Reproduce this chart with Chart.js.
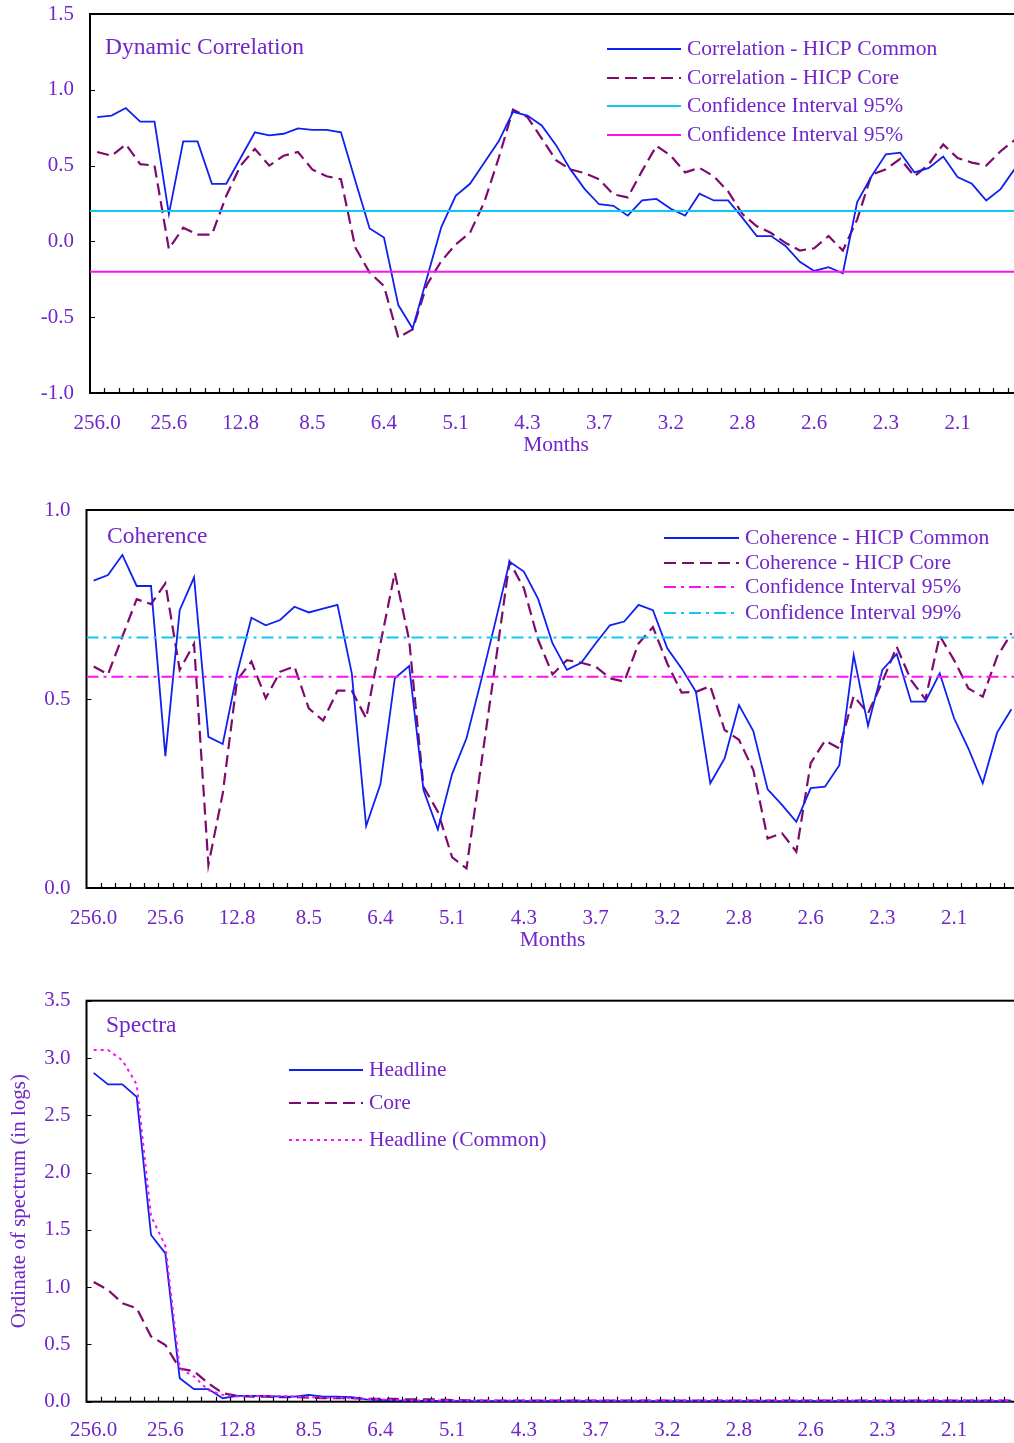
<!DOCTYPE html>
<html>
<head>
<meta charset="utf-8">
<script src="https://cdn.jsdelivr.net/npm/chart.js@4.4.1/dist/chart.umd.min.js"></script>
<style>
  html, body { margin: 0; padding: 0; background: #fff; overflow: hidden; width: 1014px; height: 1443px; }
  canvas { position: absolute; left: 0; }
</style>
</head>
<body>
<canvas id="corr" width="1040" height="470" style="top:0px"></canvas>
<canvas id="coh" width="1040" height="470" style="top:490px"></canvas>
<canvas id="spec" width="1040" height="463" style="top:980px"></canvas>
<script>
// Period (in months) shown under every fifth frequency point
const periodLabels = ['256.0', '25.6', '12.8', '8.5', '6.4', '5.1', '4.3', '3.7', '3.2', '2.8', '2.6', '2.3', '2.1'];
const pointCount = 65;

// Dynamic correlation
const corrCommon = [0.82, 0.83, 0.88, 0.79, 0.79, 0.18, 0.66, 0.66, 0.38, 0.38,
  0.55, 0.72, 0.70, 0.71, 0.745, 0.735, 0.735, 0.72, 0.40, 0.085,
  0.025, -0.42, -0.575, -0.24, 0.095, 0.30, 0.38, 0.52, 0.66, 0.855,
  0.83, 0.765, 0.635, 0.475, 0.345, 0.245, 0.235, 0.17, 0.27, 0.28,
  0.215, 0.17, 0.315, 0.27, 0.27, 0.155, 0.035, 0.035, -0.03, -0.135,
  -0.195, -0.17, -0.21, 0.26, 0.43, 0.575, 0.585, 0.455, 0.485, 0.56,
  0.425, 0.38, 0.27, 0.345, 0.48];
const corrCore = [0.59, 0.565, 0.64, 0.51, 0.50, -0.05, 0.09, 0.045, 0.045, 0.30,
  0.50, 0.61, 0.50, 0.565, 0.59, 0.475, 0.43, 0.41, -0.04, -0.205,
  -0.295, -0.635, -0.58, -0.285, -0.13, -0.02, 0.057, 0.26, 0.55, 0.87,
  0.82, 0.68, 0.535, 0.475, 0.45, 0.41, 0.31, 0.29, 0.465, 0.63,
  0.565, 0.455, 0.485, 0.43, 0.33, 0.18, 0.10, 0.055, -0.01, -0.06,
  -0.045, 0.035, -0.06, 0.145, 0.44, 0.475, 0.545, 0.43, 0.51, 0.64,
  0.55, 0.52, 0.50, 0.595, 0.67];
const corrBandUpper = 0.2;
const corrBandLower = -0.2;

// Coherence
const cohCommon = [0.813, 0.828, 0.881, 0.799, 0.799, 0.349, 0.735, 0.822, 0.40, 0.381,
  0.568, 0.715, 0.695, 0.709, 0.744, 0.729, 0.739, 0.749, 0.568, 0.164,
  0.275, 0.555, 0.587, 0.259, 0.155, 0.302, 0.396, 0.546, 0.702, 0.863,
  0.837, 0.764, 0.647, 0.577, 0.596, 0.647, 0.695, 0.705, 0.749, 0.735,
  0.634, 0.581, 0.519, 0.277, 0.343, 0.484, 0.415, 0.261, 0.22, 0.175,
  0.264, 0.268, 0.325, 0.616, 0.429, 0.577, 0.619, 0.493, 0.493, 0.568,
  0.449, 0.369, 0.277, 0.411, 0.473];
const cohCore = [0.586, 0.565, 0.665, 0.764, 0.751, 0.806, 0.577, 0.646, 0.061, 0.25,
  0.55, 0.599, 0.502, 0.572, 0.586, 0.475, 0.443, 0.522, 0.522, 0.449,
  0.647, 0.834, 0.656, 0.268, 0.202, 0.081, 0.052, 0.321, 0.59, 0.863,
  0.793, 0.656, 0.565, 0.603, 0.596, 0.586, 0.555, 0.546, 0.647, 0.69,
  0.594, 0.517, 0.519, 0.534, 0.418, 0.392, 0.312, 0.131, 0.145, 0.096,
  0.33, 0.39, 0.369, 0.508, 0.462, 0.546, 0.638, 0.55, 0.499, 0.667,
  0.603, 0.528, 0.506, 0.612, 0.674];
const cohCI95 = 0.559;
const cohCI99 = 0.663;

// Spectra (in logs)
const specHeadline = [2.87, 2.77, 2.77, 2.66, 1.455, 1.295, 0.205, 0.11, 0.11, 0.03,
  0.05, 0.05, 0.05, 0.045, 0.045, 0.06, 0.045, 0.045, 0.04, 0.02,
  0.015, 0.01, 0.01, 0.008, 0.006, 0.005, 0.004, 0.004, 0.004, 0.004,
  0.004, 0.004, 0.004, 0.004, 0.004, 0.004, 0.004, 0.005, 0.004, 0.004,
  0.004, 0.004, 0.004, 0.004, 0.004, 0.004, 0.004, 0.004, 0.004, 0.004,
  0.004, 0.004, 0.004, 0.004, 0.004, 0.004, 0.004, 0.004, 0.004, 0.004,
  0.004, 0.004, 0.004, 0.004, 0.004];
const specCore = [1.045, 0.975, 0.86, 0.815, 0.57, 0.495, 0.29, 0.265, 0.16, 0.075,
  0.05, 0.045, 0.045, 0.04, 0.04, 0.035, 0.03, 0.03, 0.03, 0.025,
  0.025, 0.025, 0.02, 0.02, 0.02, 0.015, 0.012, 0.01, 0.01, 0.01,
  0.01, 0.01, 0.01, 0.01, 0.01, 0.01, 0.01, 0.01, 0.01, 0.01,
  0.01, 0.01, 0.01, 0.01, 0.01, 0.01, 0.01, 0.01, 0.01, 0.01,
  0.01, 0.01, 0.01, 0.01, 0.01, 0.01, 0.01, 0.01, 0.01, 0.01,
  0.01, 0.01, 0.01, 0.01, 0.01];
const specHeadlineCommon = [3.07, 3.07, 2.98, 2.77, 1.62, 1.36, 0.29, 0.22, 0.10, 0.06,
  0.045, 0.05, 0.05, 0.05, 0.045, 0.04, 0.035, 0.035, 0.03, 0.025,
  0.02, 0.015, 0.012, 0.01, 0.01, 0.01, 0.01, 0.01, 0.01, 0.01,
  0.01, 0.01, 0.01, 0.01, 0.01, 0.01, 0.01, 0.01, 0.01, 0.01,
  0.01, 0.01, 0.01, 0.01, 0.01, 0.01, 0.01, 0.01, 0.01, 0.01,
  0.01, 0.01, 0.01, 0.01, 0.01, 0.01, 0.01, 0.01, 0.01, 0.01,
  0.01, 0.01, 0.01, 0.01, 0.01];

// ---- styling ----
const TEXT = '#7026C8';
const BLUE = '#1020F0';
const PLUM = '#7E0A6E';
const CYAN = '#10C8F5';
const MAGENTA = '#FF10F0';
const SERIF = "'Liberation Serif', 'Times New Roman', serif";
const CAT_W = 14.34;

const categories = Array.from({ length: pointCount }, (_, i) => (i % 5 === 0 && periodLabels[i / 5]) ? periodLabels[i / 5] : '');

// a horizontal reference line spanning the whole frequency range
function levelLine(v) {
  return [{ x: -0.5, y: v }, { x: pointCount - 0.5, y: v }];
}

// frame, inward tick marks, panel title and legend
const panelDecor = {
  id: 'panelDecor',
  beforeDatasetsDraw(chart) {
    const { ctx, chartArea: a, scales } = chart;
    const x = scales.x, y = scales.y;
    ctx.save();
    ctx.strokeStyle = '#000';
    ctx.lineWidth = 2;
    ctx.strokeRect(a.left, a.top, a.right - a.left, a.bottom - a.top);
    ctx.lineWidth = 1.2;
    ctx.beginPath();
    const step = x.getPixelForValue(1) - x.getPixelForValue(0);
    for (let i = 0; i < chart.data.labels.length; i++) {
      const px = Math.round(x.getPixelForValue(i) + step / 2) + 0.5;
      ctx.moveTo(px, a.bottom);
      ctx.lineTo(px, a.bottom - 5);
    }
    y.ticks.forEach(t => {
      const py = Math.round(y.getPixelForValue(t.value)) + 0.5;
      ctx.moveTo(a.left, py);
      ctx.lineTo(a.left + 5, py);
    });
    ctx.stroke();
    ctx.restore();
  },
  afterDatasetsDraw(chart, args, opts) {
    const { ctx } = chart;
    ctx.save();
    ctx.fillStyle = TEXT;
    ctx.textBaseline = 'middle';
    ctx.textAlign = 'left';
    ctx.font = `23.5px ${SERIF}`;
    ctx.fillText(opts.title, opts.titleX, opts.titleY);
    ctx.font = `21.5px ${SERIF}`;
    chart.data.datasets.forEach((ds, i) => {
      const ry = opts.rows[i];
      ctx.save();
      ctx.strokeStyle = ds.borderColor;
      ctx.lineWidth = ds.borderWidth;
      ctx.setLineDash(ds.borderDash || []);
      ctx.beginPath();
      ctx.moveTo(opts.lineX1, ry);
      ctx.lineTo(opts.lineX2, ry);
      ctx.stroke();
      ctx.restore();
      ctx.fillText(ds.label, opts.textX, ry);
    });
    ctx.restore();
  }
};

function buildChart(id, cfg) {
  const yTicks = {
    color: TEXT, font: { family: SERIF, size: 21 }, padding: 16,
    stepSize: 0.5, callback: v => Number(v).toFixed(1)
  };
  return new Chart(document.getElementById(id), {
    type: 'line',
    data: { labels: categories, datasets: cfg.datasets },
    options: {
      responsive: false,
      devicePixelRatio: 1,
      animation: false,
      events: [],
      layout: { padding: { top: cfg.padTop, right: cfg.padRight, left: 0, bottom: 0 } },
      elements: { point: { radius: 0 }, line: { tension: 0 } },
      plugins: {
        legend: { display: false },
        tooltip: { enabled: false },
        panelDecor: cfg.decor
      },
      scales: {
        x: {
          type: 'category',
          offset: true,
          grid: { display: false, drawTicks: false },
          border: { display: false },
          ticks: {
            autoSkip: false, maxRotation: 0, minRotation: 0,
            color: TEXT, font: { family: SERIF, size: 21 }, padding: cfg.xTickPad,
            callback: (v, i) => categories[i]
          },
          title: cfg.xTitle ? {
            display: true, text: cfg.xTitle, color: TEXT,
            font: { family: SERIF, size: 21.5 }, padding: { top: 0, bottom: cfg.xTitlePad }
          } : { display: false },
          afterFit: s => { s.height = cfg.xHeight; s.paddingLeft = 0; s.paddingRight = 0; }
        },
        xLevel: {
          type: 'linear', display: false, min: -0.5, max: pointCount - 0.5
        },
        y: {
          min: cfg.yMin, max: cfg.yMax,
          grid: { display: false, drawTicks: false },
          border: { display: false },
          ticks: yTicks,
          title: cfg.yTitle ? {
            display: true, text: cfg.yTitle, color: TEXT,
            font: { family: SERIF, size: 21 }, padding: { top: 7, bottom: 0 }
          } : { display: false },
          afterFit: s => { s.width = cfg.yWidth; s.paddingTop = 0; s.paddingBottom = 0; }
        }
      }
    },
    plugins: [panelDecor]
  });
}

// Panel 1: dynamic correlation
buildChart('corr', {
  padTop: 14, padRight: 1040 - (90 + pointCount * CAT_W),
  yWidth: 90, xHeight: 77, xTickPad: 18, xTitle: 'Months', xTitlePad: 12,
  yMin: -1, yMax: 1.5,
  datasets: [
    { label: 'Correlation - HICP Common', data: corrCommon, borderColor: BLUE, borderWidth: 1.8, order: 1 },
    { label: 'Correlation - HICP Core', data: corrCore, borderColor: PLUM, borderWidth: 2.2, borderDash: [12, 6], order: 2 },
    { label: 'Confidence Interval 95%', data: levelLine(corrBandUpper), xAxisID: 'xLevel', borderColor: CYAN, borderWidth: 2, order: 0 },
    { label: 'Confidence Interval 95%', data: levelLine(corrBandLower), xAxisID: 'xLevel', borderColor: MAGENTA, borderWidth: 2, order: 0 }
  ],
  decor: { title: 'Dynamic Correlation', titleX: 105, titleY: 48, lineX1: 607, lineX2: 681, textX: 687, rows: [49, 78, 106, 135] }
});

// Panel 2: coherence
buildChart('coh', {
  padTop: 20, padRight: 1040 - (86.5 + pointCount * CAT_W),
  yWidth: 86.5, xHeight: 72, xTickPad: 18, xTitle: 'Months', xTitlePad: 7,
  yMin: 0, yMax: 1,
  datasets: [
    { label: 'Coherence - HICP Common', data: cohCommon, borderColor: BLUE, borderWidth: 1.8, order: 1 },
    { label: 'Coherence - HICP Core', data: cohCore, borderColor: PLUM, borderWidth: 2.2, borderDash: [12, 6], order: 2 },
    { label: 'Confidence Interval 95%', data: levelLine(cohCI95), xAxisID: 'xLevel', borderColor: MAGENTA, borderWidth: 2, borderDash: [12, 5, 3, 5], order: 0 },
    { label: 'Confidence Interval 99%', data: levelLine(cohCI99), xAxisID: 'xLevel', borderColor: CYAN, borderWidth: 2, borderDash: [12, 5, 3, 5], order: 0 }
  ],
  decor: { title: 'Coherence', titleX: 107, titleY: 47, lineX1: 664, lineX2: 739, textX: 745, rows: [48, 73, 97, 123] }
});

// Panel 3: spectra
buildChart('spec', {
  padTop: 20.7, padRight: 1040 - (86.5 + pointCount * CAT_W),
  yWidth: 86.5, xHeight: 41.3, xTickPad: 16, xTitle: null,
  yMin: 0, yMax: 3.5, yTitle: 'Ordinate of spectrum (in logs)',
  datasets: [
    { label: 'Headline', data: specHeadline, borderColor: BLUE, borderWidth: 1.8, order: 1 },
    { label: 'Core', data: specCore, borderColor: PLUM, borderWidth: 2.2, borderDash: [12, 6], order: 2 },
    { label: 'Headline (Common)', data: specHeadlineCommon, borderColor: MAGENTA, borderWidth: 2, borderDash: [3, 4], order: 0 }
  ],
  decor: { title: 'Spectra', titleX: 106, titleY: 46, lineX1: 289, lineX2: 363, textX: 369, rows: [90, 123, 160] }
});
</script>
</body>
</html>
